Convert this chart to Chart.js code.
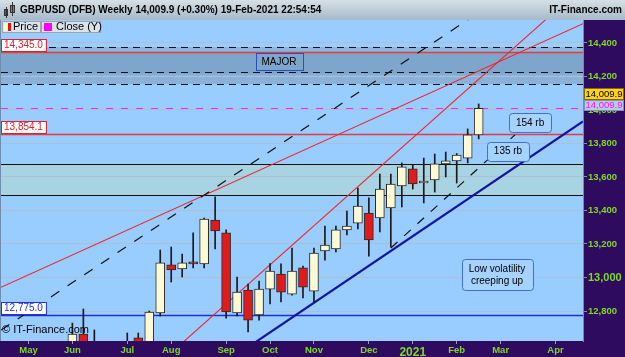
<!DOCTYPE html>
<html>
<head>
<meta charset="utf-8">
<script src="https://cdn.jsdelivr.net/npm/chart.js@4"></script>
<style>
  html, body { margin: 0; padding: 0; background: #2e0b5e; }
  #wrap { width: 625px; height: 357px; }
</style>
</head>
<body>
<div id="wrap"><canvas id="chart" width="625" height="357"></canvas></div>
<script>
// weekly candles, GBP/USD x10000
const weeks = ['2020-04-20','2020-04-27','2020-05-04','2020-05-11','2020-05-18','2020-05-25','2020-06-01','2020-06-08','2020-06-15','2020-06-22','2020-06-29','2020-07-06','2020-07-13','2020-07-20','2020-07-27','2020-08-03','2020-08-10','2020-08-17','2020-08-24','2020-08-31','2020-09-07','2020-09-14','2020-09-21','2020-09-28','2020-10-05','2020-10-12','2020-10-19','2020-10-26','2020-11-02','2020-11-09','2020-11-16','2020-11-23','2020-11-30','2020-12-07','2020-12-14','2020-12-21','2020-12-28','2021-01-04','2021-01-11','2021-01-18','2021-01-25','2021-02-01','2021-02-08','2021-02-15','2021-02-22','2021-03-01','2021-03-08','2021-03-15','2021-03-22','2021-03-29','2021-04-05','2021-04-12','2021-04-19'];
const none9 = [null,null,null,null,null,null,null,null,null];
const open  = [12440,12370,12440,12340,12100,12200,12345,12663,12560,12355,12340,12480,12640,12570,12788,13075,13051,13093,13081,13343,13266,12788,12925,12776,12931,13021,12901,13057,12919,13158,13170,13284,13325,13385,13355,13415,13546,13648,13564,13582,13678,13696,13713,13851].concat(none9);
const high  = [12480,12600,12460,12380,12290,12390,12728,12812,12687,12540,12530,12669,12669,12800,13164,13182,13140,13266,13355,13481,13285,13003,12961,12979,13083,13081,13176,13068,13176,13307,13307,13397,13534,13475,13618,13618,13684,13672,13713,13737,13749,13740,13887,14036].concat(none9);
const low   = [12250,12350,12265,12075,12075,12160,12335,12535,12335,12335,12250,12440,12480,12530,12770,12973,13003,13057,13057,13170,12758,12770,12675,12746,12842,12854,12895,12878,12854,13104,13152,13254,13290,13128,13272,13182,13421,13528,13445,13510,13600,13564,13684,13827].concat(none9);
const close = [12370,12440,12340,12100,12200,12345,12663,12560,12355,12340,12480,12612,12570,12794,13087,13045,13087,13081,13349,13278,12794,12913,12746,12931,13039,12913,13039,12943,13146,13194,13284,13307,13427,13224,13528,13558,13660,13558,13576,13678,13696,13731,13851,14009.9].concat(none9);

const monthNames = ['2021','Feb','Mar','Apr','May','Jun','Jul','Aug','Sep','Oct','Nov','Dec'];
const yTicks = [12800,13000,13200,13400,13600,13800,14000,14200,14400];
const yMin = 12621, yMax = 14537;

// drawn levels and zones
const zones = [[14375,14345],[14345,14210],[14210,14155],[13680,13492]];
const dashedLevels = [14375,14224,14155];
const redLevels = [14345.0,13854.1];
const blackLevels = [13680,13492];
const blueLevels = [12775.0];
const lastClose = 14009.9;

// trendlines as [week index, price] pairs
const redShallow = [[2,13016],[42,14203]];
const redSteep   = [[22,12959],[42,14125]];
const dashUpper  = [[2,12795],[42,14538]];
const dashLower  = [[35,13176],[46.3,13851]];
const blueTrend  = [[22,12584],[48,13733]];

// notes
const noteText  = ['MAJOR','154 rb','135 rb','Low volatility\ncreeping up'];
const noteWeek  = [24.82,47.68,45.67,44.67];
const notePrice = [14290,13925,13755,13018];

const FONT = '"Liberation Sans", Arial, sans-serif';
Chart.defaults.font.family = FONT;

const bodies = weeks.map((w, k) => open[k] == null ? null : [open[k], close[k]]);
const wicks = weeks.map((w, k) => high[k] == null ? null : [low[k], high[k]]);
const bodyColors = weeks.map((w, k) => close[k] >= open[k] ? '#fcf9d4' : '#e01b1b');

function monthLabel(k) {
  const d = weeks[k];
  if (!d) return '';
  const day = +d.slice(8, 10);
  if (day > 7) return '';
  return monthNames[+d.slice(5, 7) - 1];
}

function fmt(v) {
  return v.toLocaleString('en-US', {minimumFractionDigits: 1, maximumFractionDigits: 1});
}

function hline(ctx, a, y, v) {
  const p = Math.round(y.getPixelForValue(v)) + 0.5;
  ctx.beginPath(); ctx.moveTo(a.left, p); ctx.lineTo(a.right, p); ctx.stroke();
}

function trend(ctx, a, x, y, pts, extend) {
  let x1 = x.getPixelForValue(pts[0][0]), y1 = y.getPixelForValue(pts[0][1]);
  let x2 = x.getPixelForValue(pts[1][0]), y2 = y.getPixelForValue(pts[1][1]);
  if (extend) {
    const m = (y2 - y1) / (x2 - x1);
    y1 = y1 + m * (a.left - x1); x1 = a.left;
    y2 = y2 + m * (a.right - x2); x2 = a.right;
  }
  ctx.beginPath(); ctx.moveTo(x1, y1); ctx.lineTo(x2, y2); ctx.stroke();
}

function roundRect(ctx, x, y, w, h, r) {
  ctx.beginPath();
  ctx.moveTo(x + r, y); ctx.lineTo(x + w - r, y); ctx.quadraticCurveTo(x + w, y, x + w, y + r);
  ctx.lineTo(x + w, y + h - r); ctx.quadraticCurveTo(x + w, y + h, x + w - r, y + h);
  ctx.lineTo(x + r, y + h); ctx.quadraticCurveTo(x, y + h, x, y + h - r);
  ctx.lineTo(x, y + r); ctx.quadraticCurveTo(x, y, x + r, y);
  ctx.closePath();
}

const decor = {
  id: 'decor',
  beforeDraw(chart) {
    const {ctx, chartArea: a, scales: {y}} = chart;
    ctx.save();
    ctx.fillStyle = '#2e0b5e';
    ctx.fillRect(0, 0, chart.width, chart.height);
    const g = ctx.createLinearGradient(0, 0, 0, 20);
    g.addColorStop(0, '#d6e0e6');
    g.addColorStop(1, '#a6bac9');
    ctx.fillStyle = g;
    ctx.fillRect(0, 0, chart.width, 20);
    ctx.fillStyle = '#99ccff';
    ctx.fillRect(a.left, a.top, a.right - a.left, a.bottom - a.top);
    const zoneColors = ['#8cb6de', '#7ea5cb', '#8ab2d9', '#a7d3e3'];
    zones.forEach((z, i) => {
      const y1 = y.getPixelForValue(z[0]), y2 = y.getPixelForValue(z[1]);
      ctx.fillStyle = zoneColors[i];
      ctx.fillRect(a.left, y1, a.right - a.left, y2 - y1);
    });
    ctx.fillStyle = '#6f8fae';
    ctx.fillRect(0, a.top, 1, a.bottom - a.top);
    ctx.restore();
  },
  beforeDatasetsDraw(chart) {
    const {ctx, chartArea: a, scales: {x, y}} = chart;
    ctx.save();
    ctx.beginPath();
    ctx.rect(a.left, a.top, a.right - a.left, a.bottom - a.top);
    ctx.clip();

    ctx.lineWidth = 1.2;
    ctx.strokeStyle = '#111';
    ctx.setLineDash([7, 5]);
    dashedLevels.forEach(v => hline(ctx, a, y, v));

    ctx.strokeStyle = '#ff22ff';
    ctx.lineWidth = 1;
    ctx.setLineDash([7, 8]);
    hline(ctx, a, y, lastClose);

    ctx.setLineDash([]);
    ctx.strokeStyle = '#111';
    ctx.lineWidth = 1;
    blackLevels.forEach(v => hline(ctx, a, y, v));

    ctx.strokeStyle = '#e63a3e';
    ctx.lineWidth = 1.6;
    redLevels.forEach(v => hline(ctx, a, y, v));

    ctx.strokeStyle = '#1f2de0';
    ctx.lineWidth = 1.3;
    blueLevels.forEach(v => hline(ctx, a, y, v));

    ctx.strokeStyle = '#f0242c';
    ctx.lineWidth = 1.1;
    trend(ctx, a, x, y, redShallow, true);
    trend(ctx, a, x, y, redSteep, true);

    ctx.strokeStyle = '#111';
    ctx.lineWidth = 1.2;
    ctx.setLineDash([10, 10]);
    trend(ctx, a, x, y, dashUpper, true);
    ctx.setLineDash([9, 9]);
    trend(ctx, a, x, y, dashLower, false);
    ctx.setLineDash([]);

    ctx.strokeStyle = '#14149e';
    ctx.lineWidth = 2.2;
    trend(ctx, a, x, y, blueTrend, true);
    ctx.restore();
  },
  afterDraw(chart) {
    const {ctx, chartArea: a, scales: {x, y}} = chart;
    ctx.save();
    ctx.textBaseline = 'middle';

    // notes
    noteText.forEach((t, i) => {
      const cx = x.getPixelForValue(noteWeek[i]), cy = y.getPixelForValue(notePrice[i]);
      const lines = t.split('\n');
      ctx.font = '10px ' + FONT;
      const w = Math.max(...lines.map(l => ctx.measureText(l).width)) + (i === 0 ? 12 : 14);
      const h = lines.length * 12 + (i === 0 ? 5 : 7);
      if (i === 0) {
        ctx.strokeStyle = '#2a4fc0'; ctx.lineWidth = 1;
        ctx.strokeRect(Math.round(cx - w / 2) + 0.5, Math.round(cy - h / 2) + 0.5, Math.round(w), Math.round(h));
      } else {
        roundRect(ctx, Math.round(cx - w / 2) + 0.5, Math.round(cy - h / 2) + 0.5, Math.round(w), Math.round(h), 3);
        ctx.fillStyle = '#a6d2ff'; ctx.fill();
        ctx.strokeStyle = '#3f6fd0'; ctx.lineWidth = 1; ctx.stroke();
      }
      ctx.fillStyle = '#000';
      ctx.textAlign = 'center';
      lines.forEach((l, j) => ctx.fillText(l, cx, cy + (j - (lines.length - 1) / 2) * 12 + 0.5));
    });

    // left price tags
    ctx.textAlign = 'left';
    ctx.font = '10px ' + FONT;
    const tags = redLevels.map(v => [v, '#e0202a']).concat(blueLevels.map(v => [v, '#2233dd']));
    tags.forEach(([v, c]) => {
      const p = Math.round(y.getPixelForValue(v));
      const t = fmt(v);
      const w = ctx.measureText(t).width + 6;
      ctx.fillStyle = '#fff';
      ctx.fillRect(1, p - 13, w, 12);
      ctx.strokeStyle = c; ctx.lineWidth = 1;
      ctx.strokeRect(1.5, p - 12.5, w, 12);
      ctx.fillStyle = c;
      ctx.fillText(t, 4, p - 6.5);
    });

    // right close tags
    const cp = Math.round(y.getPixelForValue(lastClose));
    const t = fmt(lastClose);
    ctx.font = '9.5px ' + FONT;
    ctx.textAlign = 'center';
    const tx = a.right + 21;
    ctx.fillStyle = '#b7cbe6';
    ctx.fillRect(a.right + 1, cp - 8, 40, 11);
    ctx.strokeStyle = '#7f8fb8'; ctx.strokeRect(a.right + 1.5, cp - 7.5, 39, 10);
    ctx.fillStyle = '#ff10ff';
    ctx.fillText(t, tx, cp - 2.5);
    ctx.fillStyle = '#ffd21c';
    ctx.fillRect(a.right + 1, cp - 20, 40, 12);
    ctx.strokeStyle = '#8a6a00'; ctx.strokeRect(a.right + 1.5, cp - 19.5, 39, 11);
    ctx.fillStyle = '#000';
    ctx.fillText(t, tx, cp - 13.5);
    ctx.textAlign = 'left';

    // header
    ctx.fillStyle = '#e02020'; ctx.fillRect(4, 9, 4, 7);
    ctx.fillStyle = '#22bb22'; ctx.fillRect(10, 5, 5, 8);
    ctx.strokeStyle = '#333'; ctx.lineWidth = 1;
    ctx.strokeRect(4.5, 9.5, 3, 6); ctx.strokeRect(10.5, 5.5, 4, 7);
    ctx.beginPath(); ctx.moveTo(6.5, 7); ctx.lineTo(6.5, 18); ctx.moveTo(12.5, 2); ctx.lineTo(12.5, 16); ctx.stroke();
    ctx.fillStyle = '#000';
    ctx.font = 'bold 10px ' + FONT;
    ctx.fillText('GBP/USD (DFB) Weekly 14,009.9 (+0.30%) 19-Feb-2021 22:54:54', 20, 10.5);
    ctx.textAlign = 'right';
    ctx.fillText('IT-Finance.com', 622, 10.5);

    // legend boxes
    ctx.textAlign = 'left';
    ctx.font = '11px ' + FONT;
    ctx.fillStyle = '#dde3e9'; ctx.fillRect(2, 21, 38, 11);
    ctx.strokeStyle = '#9aa4ae'; ctx.strokeRect(2.5, 21.5, 38, 11);
    ctx.fillStyle = '#fcf9d4'; ctx.fillRect(4, 23, 4, 8);
    ctx.fillStyle = '#d81818'; ctx.fillRect(8, 23, 3, 8);
    ctx.fillStyle = '#000'; ctx.fillText('Price', 13, 27);
    ctx.fillStyle = '#dde3e9'; ctx.fillRect(41, 21, 59, 11);
    ctx.strokeStyle = '#9aa4ae'; ctx.strokeRect(41.5, 21.5, 59, 11);
    ctx.fillStyle = '#ff00ff'; ctx.fillRect(44, 23, 8, 8);
    ctx.fillStyle = '#000'; ctx.fillText('Close (Y)', 56, 27);

    // watermark
    ctx.font = '11px ' + FONT;
    ctx.fillText('\u00a9 IT-Finance.com', 2, 330);
    ctx.restore();
  }
};

new Chart(document.getElementById('chart'), {
  type: 'bar',
  data: {
    labels: weeks,
    datasets: [
      {
        label: 'Wick',
        data: wicks,
        backgroundColor: '#1a1a1a',
        barThickness: 1,
        grouped: false,
        order: 2,
        clip: 0
      },
      {
        label: 'Price',
        data: bodies,
        backgroundColor: bodyColors,
        borderColor: '#2a2a2a',
        borderWidth: 1,
        borderSkipped: false,
        barThickness: 9,
        minBarLength: 2,
        grouped: false,
        order: 1,
        clip: 0
      }
    ]
  },
  options: {
    responsive: false,
    animation: false,
    devicePixelRatio: 1,
    layout: { padding: { top: 20, left: 1, right: 0, bottom: 0 } },
    plugins: {
      legend: { display: false },
      tooltip: { enabled: false },
      title: { display: false }
    },
    scales: {
      x: {
        type: 'category',
        offset: true,
        afterFit: s => { s.height = 16; },
        grid: {
          offset: false,
          drawOnChartArea: false,
          tickLength: 3,
          color: c => monthLabel(c.index) ? '#9a9ab8' : 'rgba(0,0,0,0)'
        },
        border: { display: false },
        ticks: {
          autoSkip: false,
          maxRotation: 0,
          padding: 1,
          color: '#7ddc1c',
          font: c => monthLabel(c.index) === '2021' ? { size: 12, weight: 'bold' } : { size: 9.5, weight: 'bold' },
          callback: (v, i) => monthLabel(i)
        }
      },
      y: {
        position: 'right',
        min: yMin,
        max: yMax,
        afterFit: s => { s.width = 42; },
        afterBuildTicks: s => { s.ticks = yTicks.map(v => ({ value: v })); },
        grid: {
          color: '#abc0d4',
          lineWidth: 1,
          tickLength: 4,
          tickColor: '#8a8aa8'
        },
        border: { display: true, color: '#6f8fae' },
        ticks: {
          padding: 1,
          color: '#7ddc1c',
          font: c => c.tick && c.tick.value === 13000 ? { size: 11, weight: 'bold' } : { size: 9.5, weight: 'bold' },
          callback: v => v.toLocaleString('en-US')
        }
      }
    }
  },
  plugins: [decor]
});
</script>
</body>
</html>
